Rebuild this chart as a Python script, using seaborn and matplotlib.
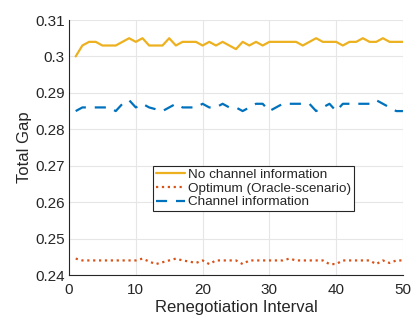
import numpy as np
import pandas as pd
import matplotlib
matplotlib.use('Agg')
import matplotlib.pyplot as plt
import seaborn as sns

intervals = list(range(1, 51))

no_channel = [0.300, 0.303, 0.304, 0.304, 0.303, 0.303, 0.303, 0.304, 0.305, 0.304,
              0.305, 0.303, 0.303, 0.303, 0.305, 0.303, 0.304, 0.304, 0.304, 0.303,
              0.304, 0.303, 0.304, 0.303, 0.302, 0.304, 0.303, 0.304, 0.303, 0.304,
              0.304, 0.304, 0.304, 0.304, 0.303, 0.304, 0.305, 0.304, 0.304, 0.304,
              0.303, 0.304, 0.304, 0.305, 0.304, 0.304, 0.305, 0.304, 0.304, 0.304]

optimum = [0.2445, 0.2440, 0.2440, 0.2440, 0.2440, 0.2440, 0.2440, 0.2440, 0.2440, 0.2440,
           0.2445, 0.2437, 0.2430, 0.2435, 0.2440, 0.2445, 0.2440, 0.2437, 0.2433, 0.2440,
           0.2430, 0.2440, 0.2440, 0.2440, 0.2440, 0.2430, 0.2440, 0.2440, 0.2440, 0.2440,
           0.2440, 0.2440, 0.2445, 0.2440, 0.2440, 0.2440, 0.2440, 0.2440, 0.2430, 0.2430,
           0.2440, 0.2440, 0.2440, 0.2440, 0.2440, 0.2430, 0.2440, 0.2433, 0.2440, 0.2440]

channel_info = [0.285, 0.286, 0.286, 0.286, 0.286, 0.286, 0.285, 0.287, 0.288, 0.286,
                0.287, 0.286, 0.2855, 0.285, 0.286, 0.287, 0.286, 0.286, 0.286, 0.287,
                0.286, 0.286, 0.287, 0.286, 0.286, 0.285, 0.286, 0.287, 0.287, 0.285,
                0.286, 0.287, 0.287, 0.287, 0.287, 0.287, 0.285, 0.286, 0.287, 0.285,
                0.287, 0.287, 0.287, 0.287, 0.287, 0.288, 0.287, 0.286, 0.285, 0.285]

labels = ['No channel information', 'Optimum (Oracle-scenario)', 'Channel information']

sns.set_style('whitegrid')
plt.rcParams['font.family'] = ['Liberation Sans', 'DejaVu Sans']

fig = plt.figure(figsize=(4.12, 3.2), dpi=100)
ax = fig.add_axes([0.1675, 0.1406, 0.8105, 0.7969])

sns.lineplot(x=intervals, y=no_channel, ax=ax, color='#EDB120', lw=1.6, label=labels[0])
sns.lineplot(x=intervals, y=optimum, ax=ax, color='#D95319', lw=1.6, linestyle=':', label=labels[1])
sns.lineplot(x=intervals, y=channel_info, ax=ax, color='#0072BD', lw=1.6, linestyle=(0, (5, 4)), label=labels[2])

ax.set_xlim(0, 50)
ax.set_ylim(0.24, 0.31)
ax.set_xticks([0, 10, 20, 30, 40, 50])
ax.set_yticks([0.24, 0.25, 0.26, 0.27, 0.28, 0.29, 0.3, 0.31])
ax.set_yticklabels(['0.24', '0.25', '0.26', '0.27', '0.28', '0.29', '0.3', '0.31'])
ax.grid(True, color='#e6e6e6', lw=0.8)
ax.tick_params(axis='both', direction='in', length=3, labelsize=11, color='#262626',
               labelcolor='#262626', pad=3)
ax.tick_params(axis='x', pad=6)
for s in ['top', 'right']:
    ax.spines[s].set_visible(False)
for s in ['left', 'bottom']:
    ax.spines[s].set_color('#262626')
    ax.spines[s].set_linewidth(0.8)
ax.set_xlabel('Renegotiation Interval', fontsize=12, color='#262626', labelpad=2)
ax.set_ylabel('Total Gap', fontsize=12, color='#262626', labelpad=2)

leg = ax.legend(loc='lower left', bbox_to_anchor=(0.251, 0.251), fontsize=9.7,
                frameon=True, fancybox=False, edgecolor='#262626', framealpha=1,
                borderpad=0.2, labelspacing=0.1, handlelength=2.2, handletextpad=0.2,
                borderaxespad=0)
leg.get_frame().set_linewidth(0.8)

fig.savefig('out.png', dpi=100)
